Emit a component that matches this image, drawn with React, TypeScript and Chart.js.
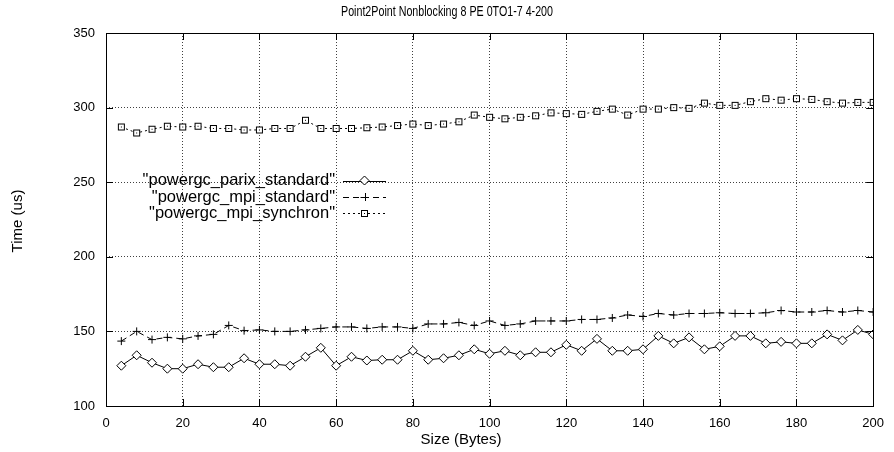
import React, { useEffect, useRef } from "react";
import { Chart, registerables } from "chart.js";

Chart.register(...registerables);

const TITLE = "Point2Point Nonblocking 8 PE 0TO1-7 4-200";
const X_TITLE = "Size (Bytes)";
const Y_TITLE = "Time (us)";

const sizes = [4, 8, 12, 16, 20, 24, 28, 32, 36, 40, 44, 48, 52, 56, 60, 64, 68, 72, 76, 80, 84, 88, 92, 96, 100, 104, 108, 112, 116, 120, 124, 128, 132, 136, 140, 144, 148, 152, 156, 160, 164, 168, 172, 176, 180, 184, 188, 192, 196, 200];

const parixStandard = [127, 134, 129, 125, 125, 128, 126, 126, 132, 128, 128, 127, 133, 139, 127, 133, 130.5, 131, 131, 137, 131, 132, 134, 138, 135, 137, 134, 136, 136, 141, 137, 145, 137, 137, 138, 147, 142, 146, 138, 140, 147, 147, 142, 143, 142, 142, 148, 144, 151, 148];

const mpiStandard = [143.5, 150, 144.5, 146, 145, 147, 148, 154, 150.5, 151, 150, 150, 151, 152, 153, 153, 152, 153, 153, 152, 155, 155, 156, 154, 157, 154, 155, 157, 157, 157, 158, 158, 159, 161, 160, 162, 161, 162, 162, 162.5, 162, 162, 162.5, 164, 163, 163, 164, 163, 164, 163];

const mpiSynchron = [287, 283, 285.5, 287.5, 287, 287.5, 286, 286, 285, 285, 286, 286, 291.5, 286, 286, 286, 286.5, 287, 288, 289, 288, 289, 290.5, 295, 293.5, 292.5, 293.5, 294.5, 296.5, 296, 295.5, 297.5, 299, 295, 299, 299, 300, 299.5, 303, 301.5, 301.5, 304, 306, 305, 306, 305.5, 304, 303, 303.5, 303.5];

const seriesNames = ['"powergc_parix_standard"', '"powergc_mpi_standard"', '"powergc_mpi_synchron"'];

const xTicks = [0, 20, 40, 60, 80, 100, 120, 140, 160, 180, 200];
const yTicks = [100, 150, 200, 250, 300, 350];

const FONT = "'Liberation Sans', Arial, sans-serif";

function makeBoxPoint(): HTMLCanvasElement {
  const c = document.createElement("canvas");
  c.width = 9;
  c.height = 9;
  const g = c.getContext("2d")!;
  g.fillStyle = "#fff";
  g.fillRect(1, 1, 7, 7);
  g.strokeStyle = "#000";
  g.lineWidth = 1;
  g.strokeRect(1.5, 1.5, 6, 6);
  g.fillStyle = "#000";
  g.fillRect(4, 4, 1, 1);
  return c;
}

export default function App() {
  const ref = useRef<HTMLCanvasElement>(null);

  useEffect(() => {
    document.body.style.margin = "0";
    const box = makeBoxPoint();
    const toXY = (arr: number[]) => arr.map((v, i) => ({ x: sizes[i], y: v }));

    const gnuplotPlugin = {
      id: "gnuplotDecor",
      afterDatasetsDraw(chart: any) {
        const { ctx, chartArea, scales } = chart;
        const { left, right, top, bottom } = chartArea;
        ctx.save();
        ctx.setLineDash([]);
        ctx.strokeStyle = "#000";
        ctx.lineWidth = 1;
        ctx.strokeRect(Math.round(left) + 0.5, Math.round(top) + 0.5, Math.round(right - left), Math.round(bottom - top));
        const tl = 7;
        ctx.beginPath();
        for (const v of xTicks) {
          const px = Math.round(scales.x.getPixelForValue(v)) + 0.5;
          ctx.moveTo(px, bottom);
          ctx.lineTo(px, bottom - tl);
          ctx.moveTo(px, top);
          ctx.lineTo(px, top + tl);
        }
        for (const v of yTicks) {
          const py = Math.round(scales.y.getPixelForValue(v)) + 0.5;
          ctx.moveTo(left, py);
          ctx.lineTo(left + tl, py);
          ctx.moveTo(right, py);
          ctx.lineTo(right - tl, py);
        }
        ctx.stroke();

        ctx.fillStyle = "#000";
        ctx.textAlign = "center";
        ctx.textBaseline = "middle";
        // condensed title (narrow face as in the original)
        ctx.font = `14.5px ${FONT}`;
        const tw = ctx.measureText(TITLE).width;
        const sx = Math.min(1, 212 / tw);
        ctx.save();
        ctx.translate(447, 12);
        ctx.scale(sx, 1);
        ctx.fillText(TITLE, 0, 0);
        ctx.restore();

        ctx.font = `15px ${FONT}`;
        ctx.fillText(X_TITLE, 461, 440);
        ctx.save();
        ctx.translate(18, 221);
        ctx.rotate(-Math.PI / 2);
        ctx.fillText(Y_TITLE, 0, 0);
        ctx.restore();

        const textRight = 335;
        const lineL = 343;
        const lineR = 386;
        const rowY = [180.5, 197, 213];
        ctx.font = `16.5px ${FONT}`;
        chart.data.datasets.forEach((ds: any, i: number) => {
          const y = rowY[i];
          ctx.fillStyle = "#000";
          ctx.textAlign = "right";
          ctx.fillText(seriesNames[i], textRight, y);
          ctx.beginPath();
          ctx.setLineDash(ds.borderDash || []);
          ctx.moveTo(lineL, Math.round(y) + 0.5);
          ctx.lineTo(lineR, Math.round(y) + 0.5);
          ctx.stroke();
          ctx.setLineDash([]);
          const mx = (lineL + lineR) / 2;
          const style = ds.pointStyle;
          const r = ds.pointRadius;
          if (style instanceof HTMLCanvasElement) {
            ctx.drawImage(style, Math.round(mx - style.width / 2), Math.round(y - style.height / 2));
          } else if (style === "rectRot") {
            ctx.beginPath();
            ctx.fillStyle = "#fff";
            ctx.moveTo(mx, y - r);
            ctx.lineTo(mx + r, y);
            ctx.lineTo(mx, y + r);
            ctx.lineTo(mx - r, y);
            ctx.closePath();
            ctx.fill();
            ctx.stroke();
          } else if (style === "cross") {
            ctx.beginPath();
            ctx.moveTo(mx - r, Math.round(y) + 0.5);
            ctx.lineTo(mx + r, Math.round(y) + 0.5);
            ctx.moveTo(Math.round(mx) + 0.5, y - r);
            ctx.lineTo(Math.round(mx) + 0.5, y + r);
            ctx.stroke();
          }
        });
        ctx.restore();
      },
    };

    const gridColor = (c: any) => {
      const v = c.tick?.value;
      const sc = c.scale;
      if (v === sc.min || v === sc.max) return "rgba(0,0,0,0)";
      return "rgba(0,0,0,0.75)";
    };

    const chart = new Chart(ref.current!, {
      type: "line",
      data: {
        datasets: [
          {
            label: seriesNames[0],
            data: toXY(parixStandard),
            borderColor: "#000",
            borderWidth: 1,
            pointStyle: "rectRot",
            pointRadius: 4.5,
            pointBorderColor: "#000",
            pointBackgroundColor: "#fff",
            pointBorderWidth: 1,
            tension: 0,
          },
          {
            label: seriesNames[1],
            data: toXY(mpiStandard),
            borderColor: "#000",
            borderWidth: 1,
            borderDash: [6, 4],
            pointStyle: "cross",
            pointRadius: 4,
            pointBorderColor: "#000",
            pointBorderWidth: 1,
            tension: 0,
          },
          {
            label: seriesNames[2],
            data: toXY(mpiSynchron),
            borderColor: "#000",
            borderWidth: 1,
            borderDash: [2, 3],
            pointStyle: box as any,
            pointRadius: 4.5,
            pointBorderColor: "#000",
            pointBorderWidth: 1,
            tension: 0,
          },
        ] as any,
      },
      options: {
        responsive: false,
        animation: false,
        events: [],
        layout: { padding: { top: 33, right: 17, left: 0, bottom: 0 } },
        plugins: {
          legend: { display: false },
          title: { display: false },
          tooltip: { enabled: false },
        },
        scales: {
          x: {
            type: "linear",
            min: 0,
            max: 200,
            afterFit: (s: any) => {
              s.height = 46;
            },
            afterBuildTicks: (s: any) => {
              s.ticks = xTicks.map((v) => ({ value: v }));
            },
            ticks: {
              color: "#000",
              font: { family: FONT, size: 13 },
              padding: 10,
              maxRotation: 0,
            },
            grid: { color: gridColor, drawTicks: false, lineWidth: 1 },
            border: { display: false, dash: [1, 2] },
          },
          y: {
            type: "linear",
            min: 100,
            max: 350,
            afterFit: (s: any) => {
              s.width = 106;
            },
            afterBuildTicks: (s: any) => {
              s.ticks = yTicks.map((v) => ({ value: v }));
            },
            ticks: {
              color: "#000",
              font: { family: FONT, size: 13 },
              padding: 11,
            },
            grid: { color: gridColor, drawTicks: false, lineWidth: 1 },
            border: { display: false, dash: [1, 2] },
          },
        },
      },
      plugins: [gnuplotPlugin],
    });
    return () => chart.destroy();
  }, []);

  return (
    <div style={{ width: 894, height: 452, background: "#fff" }}>
      <canvas ref={ref} width={894} height={452} style={{ display: "block" }} />
    </div>
  );
}
